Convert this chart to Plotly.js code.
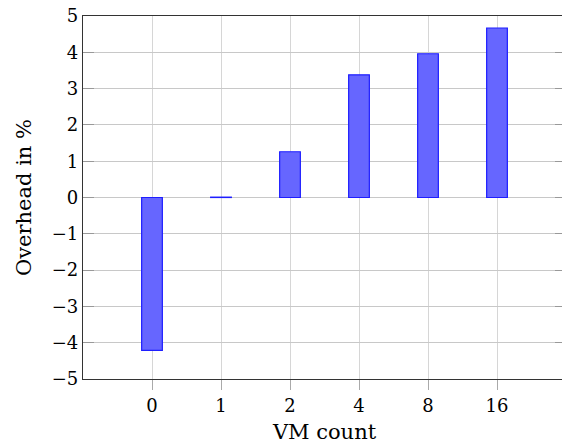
<!DOCTYPE html>
<html><head><meta charset="utf-8">
<script src="https://cdn.plot.ly/plotly-3.0.1.min.js"></script>
<style>html,body{margin:0;padding:0;overflow:hidden;background:#fff}#c{width:570px;height:445px}</style>
</head><body><div id="c"></div>
<script>
const categories = ["0", "1", "2", "4", "8", "16"];
const overhead = [-4.21, 0.01, 1.26, 3.38, 3.96, 4.67];
const yTicks = [-5, -4, -3, -2, -1, 0, 1, 2, 3, 4, 5];

const idx = categories.map((_, i) => i);
const fam = "DejaVu Serif";

Plotly.newPlot("c", [{
  type: "bar",
  x: idx,
  y: overhead,
  width: 0.3,
  marker: {color: "rgb(102,102,255)", line: {color: "rgb(30,30,255)", width: 1.2}},
  hoverinfo: "none"
}], {
  width: 570, height: 445,
  margin: {l: 83, r: 4.3, t: 16, b: 66},
  paper_bgcolor: "#fff", plot_bgcolor: "#fff",
  showlegend: false,
  font: {family: fam, size: 18, color: "#000"},
  xaxis: {
    range: [-1, 6],
    tickmode: "array", tickvals: idx, ticktext: categories,
    showgrid: true, gridcolor: "#d6d6d6", gridwidth: 1,
    zeroline: false,
    showline: true, linecolor: "#333", linewidth: 1.2, mirror: true,
    ticks: "outside", ticklen: 10, tickcolor: "#aaa", tickwidth: 1,
    tickfont: {family: fam, size: 18, color: "#000"},
    title: {text: "VM count", font: {family: fam, size: 21, color: "#000"}, standoff: 9}
  },
  yaxis: {
    range: [-5, 5],
    tickmode: "array", tickvals: yTicks,
    showgrid: true, gridcolor: "#c8c8c8", gridwidth: 1,
    zeroline: false,
    showline: true, linecolor: "#333", linewidth: 1.2, mirror: "ticks",
    ticks: "inside", ticklen: 11, tickcolor: "#999", tickwidth: 1,
    tickfont: {family: fam, size: 18, color: "#000"},
    title: {text: "Overhead in %", font: {family: fam, size: 21, color: "#000"}, standoff: 14}
  }
}, {staticPlot: true, displayModeBar: false});
</script></body></html>
